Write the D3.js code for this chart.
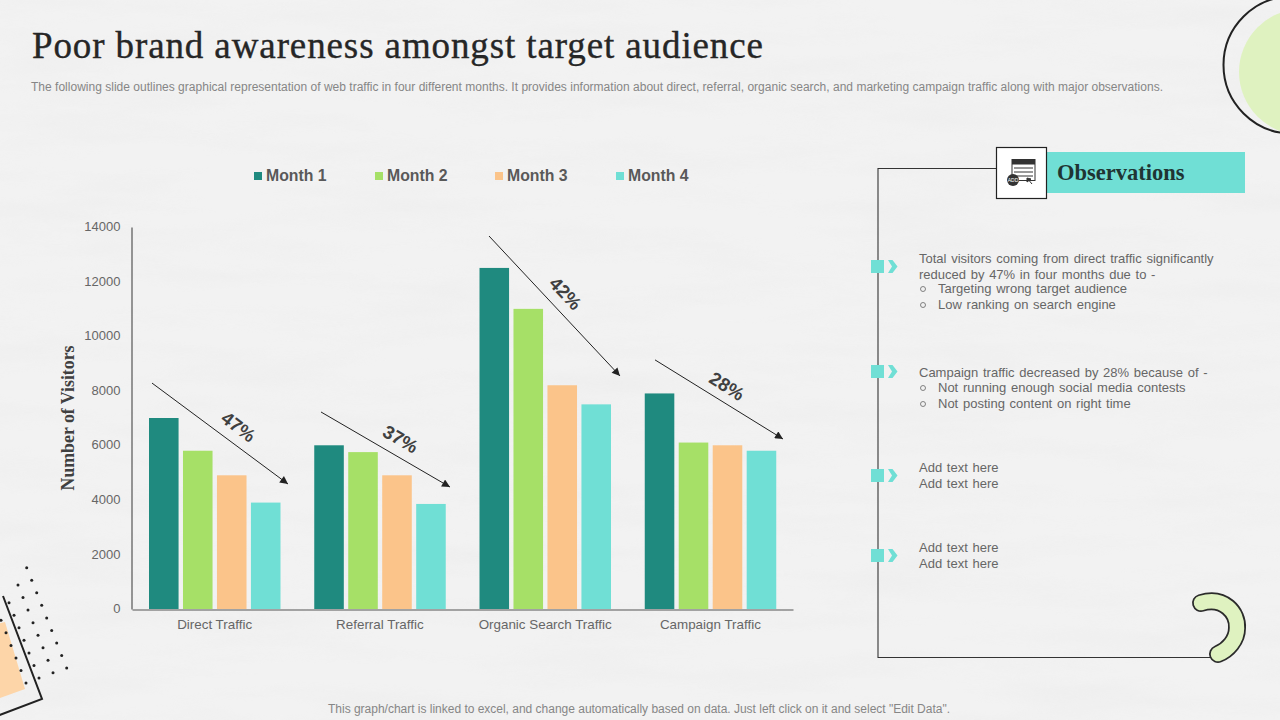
<!DOCTYPE html>
<html><head><meta charset="utf-8">
<script src="https://cdn.jsdelivr.net/npm/d3@7/dist/d3.min.js"></script>
<style>
html,body{margin:0;padding:0;background:#f1f1f1;overflow:hidden}
svg{display:block}
text{font-family:"Liberation Sans",Arial,sans-serif}
.serif{font-family:"Liberation Serif","Times New Roman",serif}
</style></head><body>
<svg id="c" width="1280" height="720"></svg>
<script>
const categories=["Direct Traffic","Referral Traffic","Organic Search Traffic","Campaign Traffic"];
const months=["Month 1","Month 2","Month 3","Month 4"];
const month1=[7000,6000,12500,7900];
const month2=[5800,5750,11000,6100];
const month3=[4900,4900,8200,6000];
const month4=[3900,3850,7500,5800];
const yTicks=[0,2000,4000,6000,8000,10000,12000,14000];
const changes=["47%","37%","42%","28%"];
const arrowFrom=[8280,7220,13670,9130];
const arrowTo=[4580,4470,8540,6230];
const labelValue=[6680,6230,11570,8170];
const obsLines=[
 ["Total visitors coming from direct traffic significantly","reduced by 47% in four months due to -"],
 ["Campaign traffic decreased by 28% because of -"],
 ["Add text here","Add text here"],
 ["Add text here","Add text here"]];
const obsBullets=[
 ["Targeting wrong target audience","Low ranking on search engine"],
 ["Not running enough social media contests","Not posting content on right time"],
 [],[]];

const colors=["#1f8a7f","#a6e067","#fbc48a","#70dfd5"];
const labelAngle=[37,30,47,32];
const svg=d3.select("#c");
const defs=svg.append("defs");
const tex=defs.append("filter").attr("id","tex").attr("x",0).attr("y",0).attr("width","100%").attr("height","100%");
tex.append("feTurbulence").attr("type","fractalNoise").attr("baseFrequency","0.006 0.035").attr("numOctaves",4).attr("seed",7);
tex.append("feColorMatrix").attr("values","0 0 0 0 0.84  0 0 0 0 0.84  0 0 0 0 0.84  1.8 0 0 0 -0.72");
const mk=defs.append("marker").attr("id","ah").attr("viewBox","0 0 10 10").attr("refX",10).attr("refY",5)
 .attr("markerWidth",9).attr("markerHeight",8).attr("markerUnits","userSpaceOnUse").attr("orient","auto");
mk.append("path").attr("d","M0,0L10,5L0,10Z").attr("fill","#222");

svg.append("rect").attr("width",1280).attr("height",720).attr("fill","#f2f2f2");
svg.append("rect").attr("width",1280).attr("height",720).attr("filter","url(#tex)").attr("opacity",0.6);

// Decorations
svg.append("circle").attr("cx",1302).attr("cy",72).attr("r",63).attr("fill","#dff2c0");
svg.append("circle").attr("cx",1292).attr("cy",65).attr("r",68.5).attr("fill","none").attr("stroke","#222").attr("stroke-width",2);
svg.append("path").attr("d","M-3,624L5,622L25,689L-3,699Z").attr("fill","#fdd5a8");
svg.append("path").attr("d","M3,596L42,699L-3,716").attr("fill","none").attr("stroke","#222").attr("stroke-width",2);
[[26.7,567.7,9],[18,585,8],[9,602.7,7],[1,620.3,6]].forEach(([a,b,n])=>d3.range(n).forEach(i=>{
 svg.append("circle").attr("cx",a+i*5).attr("cy",b+i*12.55).attr("r",1.5).attr("fill","#222");
}));
const sw="M1201,603C1224,596 1238,613 1237,628C1237,640 1228,650 1218,654";
svg.append("path").attr("d","M878,168.5H996M878,168V657.5H1213").attr("fill","none").attr("stroke","#333").attr("stroke-width",1.1);
svg.append("path").attr("d",sw).attr("fill","none").attr("stroke","#2b2b2b").attr("stroke-width",18).attr("stroke-linecap","round");
svg.append("path").attr("d",sw).attr("fill","none").attr("stroke","#dff2c0").attr("stroke-width",14.5).attr("stroke-linecap","round");

// Header
svg.append("text").attr("class","serif").attr("x",32).attr("y",58).attr("font-size",37).attr("fill","#262626")
 .attr("stroke","#262626").attr("stroke-width",0.35)
 .attr("textLength",731).attr("lengthAdjust","spacing").text("Poor brand awareness amongst target audience");
svg.append("text").attr("x",31).attr("y",91).attr("font-size",12).attr("fill","#868686")
 .attr("textLength",1132).attr("lengthAdjust","spacing")
 .text("The following slide outlines graphical representation of web traffic in four different months. It provides information about direct, referral, organic search, and marketing campaign traffic along with major observations.");
svg.append("text").attr("x",639).attr("y",713).attr("text-anchor","middle").attr("font-size",12).attr("fill","#868686")
 .attr("textLength",622).attr("lengthAdjust","spacing")
 .text("This graph/chart is linked to excel, and change automatically based on data. Just left click on it and select \"Edit Data\".");

// Chart
const x0=d3.scaleBand().domain(categories).range([132,793]);
const x1=d3.scaleBand().domain(months).range([17,148.5]).paddingInner(0.13);
const y=d3.scaleLinear().domain([0,14000]).range([609,227]);
const series=[month1,month2,month3,month4];
const g=svg.append("g");
series.forEach((vals,s)=>{
 g.selectAll(null).data(vals).join("rect")
  .attr("x",(d,i)=>x0(categories[i])+x1(months[s]))
  .attr("y",d=>y(d)).attr("width",x1.bandwidth()).attr("height",d=>y(0)-y(d)).attr("fill",colors[s]);
});
const ya=svg.append("g").attr("transform","translate(131.5,0)").call(d3.axisLeft(y).tickValues(yTicks).tickSize(0).tickPadding(11).tickFormat(d3.format("d")));
ya.select(".domain").attr("stroke","#555").attr("stroke-width",1.2);
ya.selectAll("text").attr("font-size",13).attr("fill","#666").attr("font-family","Liberation Sans").attr("dy","0.28em");
const xa=svg.append("g").attr("transform","translate(0,609.5)").call(d3.axisBottom(x0).tickSize(0).tickPadding(10));
xa.select(".domain").attr("stroke","#555").attr("stroke-width",1.2);
xa.selectAll("text").attr("font-size",13.4).attr("fill","#666").attr("font-family","Liberation Sans");
svg.append("text").attr("class","serif").attr("transform","translate(74,418) rotate(-90)").attr("text-anchor","middle")
 .attr("font-size",17.8).attr("font-weight","bold").attr("fill","#404040").text("Number of Visitors");

// Arrows + labels
const arrowX=[[20,156],[189,318],[357,488],[523,651]];
const labelX=[106.5,268.5,433.5,595];
categories.forEach((c,i)=>{
 svg.append("line").attr("x1",x0.range()[0]+arrowX[i][0]).attr("x2",x0.range()[0]+arrowX[i][1])
  .attr("y1",y(arrowFrom[i])).attr("y2",y(arrowTo[i])).attr("stroke","#222").attr("stroke-width",1).attr("marker-end","url(#ah)");
 svg.append("text").attr("transform",`translate(${x0.range()[0]+labelX[i]},${y(labelValue[i])}) rotate(${labelAngle[i]})`)
  .attr("text-anchor","middle").attr("dominant-baseline","central").attr("font-size",18.5).attr("font-weight","bold").attr("fill","#404040").text(changes[i]);
});

// Legend
const legendX=[254,375,495,616];
months.forEach((m,i)=>{
 svg.append("rect").attr("x",legendX[i]).attr("y",172).attr("width",8).attr("height",8).attr("fill",colors[i]);
 svg.append("text").attr("x",legendX[i]+12).attr("y",181).attr("font-size",15.8).attr("font-weight","bold").attr("fill","#595959").text(m);
});

// Observations
svg.append("rect").attr("x",1047).attr("y",152).attr("width",198).attr("height",41).attr("fill","#70dfd5");
svg.append("rect").attr("x",996.5).attr("y",147.5).attr("width",50).attr("height",51).attr("fill","#fff").attr("stroke","#222").attr("stroke-width",1.2);
svg.append("text").attr("class","serif").attr("x",1057).attr("y",180).attr("font-size",22.5).attr("font-weight","bold").attr("fill","#1f3533").text("Observations");
const ic=svg.append("g");
ic.append("rect").attr("x",1012).attr("y",159.5).attr("width",23).attr("height",21).attr("fill","#fff").attr("stroke","#333");
ic.append("rect").attr("x",1012).attr("y",159.5).attr("width",23).attr("height",5).attr("fill","#333");
[168,172,176].forEach(v=>ic.append("path").attr("d",`M1014,${v}H1033`).attr("stroke","#333").attr("stroke-width",1));
ic.append("circle").attr("cx",1013).attr("cy",180).attr("r",6).attr("fill","#333");
ic.append("text").attr("x",1013).attr("y",182).attr("text-anchor","middle").attr("font-size",5).attr("fill","#fff").text("ADD");
ic.append("path").attr("d","M1027,178L1032,184M1027,178L1027,182L1031,179Z").attr("stroke","#333").attr("fill","#333");

const markerY=[266.5,371.5,475.5,555.5];
const firstBaseline=[263,377,472,552];
const bulletGap=[14,15,16,16];
obsLines.forEach((lines,k)=>{
 const my=markerY[k];
 svg.append("rect").attr("x",871).attr("y",my-6.5).attr("width",13).attr("height",13).attr("fill","#70dfd5");
 svg.append("path").attr("d",`M888,${my-6.5}h4.5l5,6.5l-5,6.5h-4.5l4,-6.5Z`).attr("fill","#70dfd5");
 let yy=firstBaseline[k];
 lines.forEach((t,i)=>{
  if(i>0) yy+=16;
  svg.append("text").attr("x",919).attr("y",yy).attr("font-size",13).attr("word-spacing",1.1).attr("fill","#666").text(t);
 });
 obsBullets[k].forEach((t,i)=>{
  yy+= i===0?bulletGap[k]:16;
  svg.append("circle").attr("cx",923).attr("cy",yy-4).attr("r",2.5).attr("fill","none").attr("stroke","#666").attr("stroke-width",0.8);
  svg.append("text").attr("x",938).attr("y",yy).attr("font-size",13).attr("word-spacing",1.1).attr("fill","#666").text(t);
 });
});
</script>
</body></html>
